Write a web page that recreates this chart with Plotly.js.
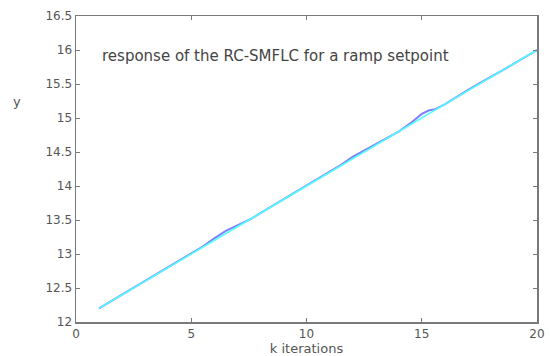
<!DOCTYPE html>
<html>
<head>
<meta charset="utf-8">
<script src="https://cdn.plot.ly/plotly-3.0.1.min.js"></script>
<style>html,body{margin:0;padding:0;background:#fff;}#chart{width:550px;height:356px;}</style>
</head>
<body>
<div id="chart"></div>
<script>
// iterations
const k = [1,1.5,2,2.5,3,3.5,4,4.5,5,5.5,6,6.5,7,7.5,8,8.5,9,9.5,10,10.5,11,11.5,12,12.5,13,13.5,14,14.5,15,15.3,15.6,16,16.5,17,17.5,18,18.5,19,19.5,20];
// ramp setpoint (cyan)
const setpoint = [12.2,12.3,12.4,12.5,12.6,12.7,12.8,12.9,13.0,13.1,13.2,13.3,13.4,13.5,13.6,13.7,13.8,13.9,14.0,14.1,14.2,14.3,14.4,14.5,14.6,14.7,14.8,14.9,15.0,15.06,15.12,15.2,15.3,15.4,15.5,15.6,15.7,15.8,15.9,16.0];
// RC-SMFLC response (blue/purple)
const response = [12.2,12.3,12.4,12.5,12.6,12.7,12.8,12.9,13.0,13.11,13.23,13.34,13.42,13.5,13.6,13.7,13.8,13.9,14.0,14.1,14.2,14.31,14.43,14.52,14.61,14.7,14.8,14.92,15.06,15.11,15.13,15.2,15.31,15.41,15.51,15.6,15.7,15.8,15.9,16.0];

const xTicks = [0,5,10,15,20];
const yTicks = [12,12.5,13,13.5,14,14.5,15,15.5,16,16.5];
const yTickText = ['12','12.5','13','13.5','14','14.5','15','15.5','16','16.5'];

const gray = '#555555';
const fam = 'DejaVu Sans, sans-serif';
const axisCommon = {
  showline: true, linecolor: '#7a7a7a', linewidth: 1.5, mirror: 'ticks',
  ticks: 'inside', ticklen: 4, tickcolor: '#7a7a7a', tickwidth: 1,
  showgrid: false, zeroline: false,
  tickfont: {family: fam, size: 12, color: gray}
};

const data = [
  {x: k, y: response, mode: 'lines', line: {color: '#7f7fff', width: 2}, hoverinfo: 'skip'},
  {x: k, y: setpoint, mode: 'lines', line: {color: '#50ffff', width: 1.6}, hoverinfo: 'skip'}
];

const layout = {
  width: 550, height: 356,
  margin: {l: 76, r: 13, t: 16, b: 34},
  paper_bgcolor: '#ffffff', plot_bgcolor: '#ffffff',
  showlegend: false,
  xaxis: Object.assign({}, axisCommon, {
    range: [0, 20], tickvals: xTicks, ticktext: xTicks.map(String),
    title: {text: 'k iterations', standoff: 1, font: {family: fam, size: 13, color: gray}}
  }),
  yaxis: Object.assign({}, axisCommon, {
    range: [12, 16.5], tickvals: yTicks, ticktext: yTickText
  }),
  annotations: [
    {text: 'y', xref: 'paper', yref: 'paper', x: -0.128, y: 0.72, xanchor: 'center', yanchor: 'middle', showarrow: false,
     font: {family: fam, size: 13, color: gray}},
    {text: 'response of the RC-SMFLC for a ramp setpoint', xref: 'paper', yref: 'paper', x: 0.052, y: 0.87,
     xanchor: 'left', yanchor: 'middle', showarrow: false,
     font: {family: fam, size: 15, color: '#444444'}}
  ]
};

Plotly.newPlot('chart', data, layout, {staticPlot: true, displayModeBar: false});
</script>
</body>
</html>
